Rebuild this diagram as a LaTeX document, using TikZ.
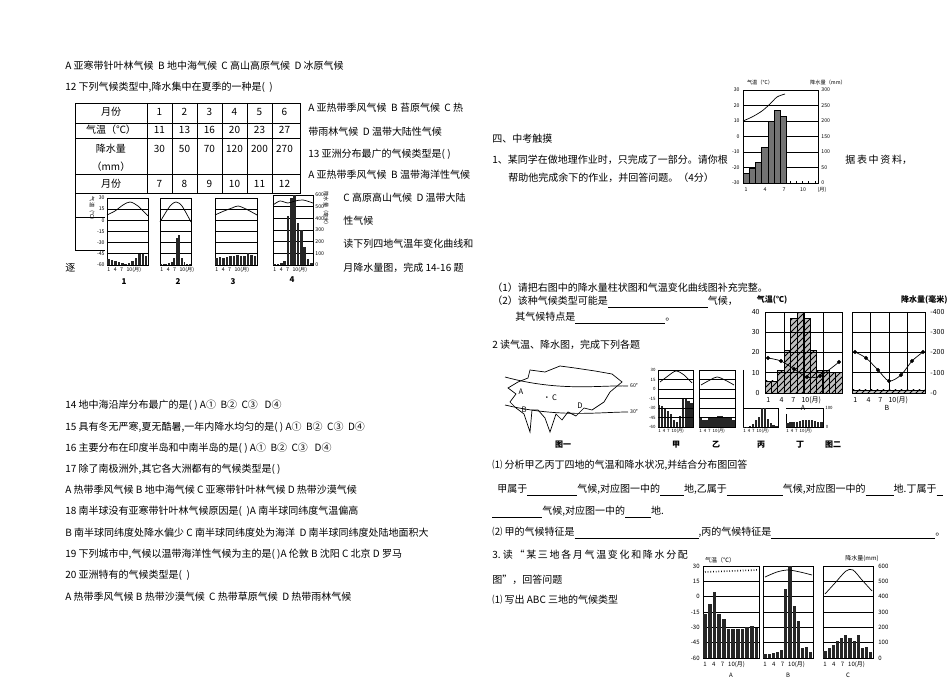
\documentclass[tikz,border=0pt]{standalone}
\usepackage{fontspec}
\setmainfont{Noto Sans CJK SC}
\usetikzlibrary{patterns}
\tikzset{
 txt/.style={anchor=west,inner sep=0,font=\fontsize{5.0}{6}\selectfont},
 sm/.style={inner sep=0,font=\fontsize{2.6}{3}\selectfont},
 lab/.style={inner sep=0,font=\fontsize{4}{4}\selectfont\bfseries},
 ln/.style={line width=0.35pt},
 bar/.style={fill=black!85},
 hatch/.style={ln,fill=black!25,postaction={pattern=north east lines}},
}
% x0 y0 w h bars(fractions) ngridlines
\newcommand\clim[6]{%
 \draw[ln] (#1,#2) rectangle ++(#3,#4);
 \foreach \k in {1,...,#6} \draw[ln] (#1,{#2+\k*#4/(#6+1)}) -- ++(#3,0);
 \foreach \v [count=\i] in {#5} \fill[bar] ({#1+(\i-0.9)*#3/12},{#2+#4}) rectangle ++({0.75*#3/12},{-\v*#4});
}
\begin{document}
\begin{tikzpicture}[x=0.5pt,y=-0.5pt]
\useasboundingbox (0,0) rectangle (950,679);
\fill[white] (0,0) rectangle (950,679);
% ---------- left column text
\node[txt] (l1) at (65,66) {A 亚寒带针叶林气候\ \ B 地中海气候\ \ C 高山高原气候\ \ D 冰原气候};
\node[txt] (l2) at (65,87) {12 下列气候类型中,降水集中在夏季的一种是(\ \ )};
% table
\draw[ln] (75,103) rectangle (300,193);
\foreach \yy in {123,138,174} \draw[ln] (75,\yy) -- (300,\yy);
\foreach \xx in {147,172,197,222,247,272} \draw[ln] (\xx,103) -- (\xx,193);
\draw[ln] (75,193) -- (75,250) (75,217) -- (105,217) (75,250) -- (105,250);
\node[txt,anchor=center] (h1) at (111,112) {月份};
\node[txt,anchor=center] (h2) at (111,130) {气温（℃）};
\node[txt,anchor=center] (h3) at (111,149) {降水量};
\node[txt,anchor=center] (h4) at (111,167) {（mm）};
\node[txt,anchor=center] (h5) at (111,184) {月份};
\foreach \a/\b/\c/\d [count=\i] in {1/11/30/7,2/13/50/8,3/16/70/9,4/20/120/10,5/23/200/11,6/27/270/12}{
 \node[txt,anchor=center] (m\i) at ({134.5+25*\i},112) {\a};
 \node[txt,anchor=center] (t\i) at ({134.5+25*\i},130) {\b};
 \node[txt,anchor=center] (p\i) at ({134.5+25*\i},149) {\c};
 \node[txt,anchor=center] (n\i) at ({134.5+25*\i},184) {\d};
}
% four small charts
\clim{107}{198}{41}{67}{.085,.075,.065,.05,.025,.015,.025,.065,.1,.165,.16,.14}{5}
\draw[ln] plot[smooth] coordinates {(107,215)(115,211)(123,205)(130,202)(138,206)(148,216)};
\clim{160}{198}{31}{67}{.01,.01,.02,.03,.05,.1,.4,.45,.1,.04,.02,.01}{5}
\draw[ln] plot[smooth] coordinates {(160,222)(166,212)(171,205)(176,202)(182,206)(191,222)};
\clim{215}{198}{42}{67}{.11,.12,.1,.12,.13,.14,.15,.14,.14,.18,.15,.13}{5}
\draw[ln] plot[smooth] coordinates {(215,215)(224,211)(232,208)(238,206)(246,209)(257,215)};
\clim{273}{195}{40}{70}{.02,.02,.03,.05,.7,.95,1.0,.6,.5,.25,.08,.03}{5}
\draw[ln] plot[smooth] coordinates {(273,205)(280,201)(288,203)(295,201)(303,200)(313,203)};
\foreach \t [count=\i] in {30,15,0,-15,-30,-45,-60} \node[sm,anchor=east] (ya\i) at (105,{198+(\i-1)*67/6}) {\t};
\node[sm,rotate=-90] (yl) at (92,210) {气温（℃）};
\foreach \t [count=\i] in {600,500,400,300,200,100,0} \node[sm,anchor=west] (yb\i) at (315,{195+(\i-1)*70/6}) {\t};
\node[sm,rotate=-90] (yr) at (326,210) {降水量（毫米）};
\foreach \xx/\yy in {107/1,160/2,215/3,273/4}{
 \node[sm,anchor=west] (mm\yy) at (\xx,270) {1\ \ \ 4\ \ \ 7\ \ \ 10(月)};
}
\node[lab] (c1) at (124,282) {1};
\node[lab] (c2) at (178,282) {2};
\node[lab] (c3) at (233,282) {3};
\node[lab] (c4) at (292,280) {4};
\node[txt] (zhu) at (65,268) {逐};
\node[txt] (r1) at (308,108) {A 亚热带季风气候\ \ B 苔原气候\ \ C 热};
\node[txt] (r2) at (308,132) {带雨林气候\ \ D 温带大陆性气候};
\node[txt] (r3) at (308,154) {13 亚洲分布最广的气候类型是(\ )};
\node[txt] (r4) at (308,175) {A 亚热带季风气候\ \ B 温带海洋性气候};
\node[txt] (r5) at (343,198) {C 高原高山气候\ \ D 温带大陆};
\node[txt] (r6) at (343,221) {性气候};
\node[txt] (r7) at (343,244) {读下列四地气温年变化曲线和};
\node[txt] (r8) at (343,268) {月降水量图，完成 14-16 题};
\node[txt] (q14) at (65,405) {14 地中海沿岸分布最广的是(\ )\ A①\ \ B②\ \ C③\ \ \ D④};
\node[txt] (q15) at (65,427) {15 具有冬无严寒,夏无酷暑,一年内降水均匀的是(\ )\ A①\ \ B②\ \ C③\ \ D④};
\node[txt] (q16) at (65,448) {16 主要分布在印度半岛和中南半岛的是(\ )\ A①\ \ B②\ \ C③\ \ \ D④};
\node[txt] (q17) at (65,469) {17 除了南极洲外,其它各大洲都有的气候类型是(\ )};
\node[txt] (q17a) at (65,490) {A 热带季风气候\ B 地中海气候\ C 亚寒带针叶林气候\ D 热带沙漠气候};
\node[txt] (q18) at (65,511) {18 南半球没有亚寒带针叶林气候原因是(\ \ )A 南半球同纬度气温偏高};
\node[txt] (q18a) at (65,533) {B 南半球同纬度处降水偏少\ C 南半球同纬度处为海洋\ \ D 南半球同纬度处陆地面积大};
\node[txt] (q19) at (65,554) {19 下列城市中,气候以温带海洋性气候为主的是(\ )A 伦敦\ B 沈阳\ C 北京\ D 罗马};
\node[txt] (q20) at (65,575) {20 亚洲特有的气候类型是(\ \ )};
\node[txt] (q20a) at (65,597) {A 热带季风气候\ B 热带沙漠气候\ \ C 热带草原气候\ \ D 热带雨林气候};
% ---------- right column
\node[txt] (s4) at (492,139) {四、中考触摸};
\node[txt] (s41) at (492,160) {1、某同学在做地理作业时，只完成了一部分。请你根};
\node[txt] (s41b) at (845,160) {据\,表\,中\,资\,料，};
\node[txt] (s42) at (508,178) {帮助他完成余下的作业，并回答问题。（4分）};
% top-right chart
\draw[ln] (743,90) rectangle (818,183);
\foreach \k in {1,...,5} \draw[ln] (743,{90+\k*15.5}) -- (818,{90+\k*15.5});
\foreach \tp [count=\i] in {173,168,162,147,121,110,116}
 \filldraw[ln,fill=black!55] ({743+(\i-1)*6.25},183) rectangle ++(6.25,{\tp-183});
\foreach \i in {8,...,12} \draw[ln] ({743+(\i-0.5)*6.25},183) -- ++(0,-2);
\draw[ln] plot[smooth] coordinates {(743,121)(752,117)(762,111)(770,104)(777,97)(785,94)};
\foreach \t [count=\i] in {30,20,10,0,-10,-20,-30} \node[sm,anchor=east] (tl\i) at (740,{90+(\i-1)*15.5}) {\t};
\foreach \t [count=\i] in {300,250,200,150,100,50,0} \node[sm,anchor=west] (tr\i) at (821,{90+(\i-1)*15.5}) {\t};
\node[sm] (tlab) at (760,83) {气温（℃）};
\node[sm] (trab) at (828,83) {降水量（mm）};
\foreach \t/\xx in {1/746,4/765,7/784,10/803,(月)/822} \node[sm] (tm\xx) at (\xx,190) {\t};
\node[txt] (a1) at (492,288) {（1）请把右图中的降水量柱状图和气温变化曲线图补充完整。};
\node[txt] (a2) at (492,302) {（2）该种气候类型可能是\underline{\hspace{50pt}}气候，};
\node[txt] (a3) at (515,318) {其气候特点是\underline{\hspace{45pt}}。};
\node[txt] (a4) at (492,345) {2 读气温、降水图，完成下列各题};
% big charts A and B
\foreach \v [count=\i] in {6,6,11,21,37,40,37,21,11,11,10,10}
 \draw[hatch] ({765+(\i-1)*6.42},393) rectangle ++(6.42,{-2.02*\v});
\draw[ln] (765,312) rectangle (842,393);
\foreach \k in {1,2,3} \draw[ln] (765,{312+\k*20.25}) -- (842,{312+\k*20.25});
\foreach \xx in {784,804,823} \draw[ln] (\xx,312) -- (\xx,393);
\draw[ln] plot[smooth,mark=*,mark size=0.8] coordinates {(768,358)(781,361)(794,369)(807,377)(820,376)(839,362)};
\draw[ln] (852,312) rectangle (925,393);
\foreach \k in {1,2,3} \draw[ln] (852,{312+\k*20.25}) -- (925,{312+\k*20.25});
\foreach \xx in {870,889,907} \draw[ln] (\xx,312) -- (\xx,393);
\draw[ln] plot[smooth,mark=*,mark size=0.8] coordinates {(855,352)(866,358)(878,370)(889,381)(901,375)(912,361)(923,352)};
\draw[hatch] (852,393) rectangle (925,390);
\foreach \t [count=\i] in {40,30,20,10,0} \node[sm,anchor=east] (bl\i) at (760,{312+(\i-1)*20.25}) {\fontsize{3.5}{4}\selectfont\t};
\foreach \t [count=\i] in {400,300,200,100,0} \node[sm,anchor=west] (br\i) at (930,{312+(\i-1)*20.25}) {\fontsize{3.5}{4}\selectfont -\t};
\node[sm] (bt1) at (772,300) {\fontsize{4}{4}\selectfont\bfseries 气温(℃)};
\node[sm,anchor=east] (bt2) at (948,300) {\fontsize{4}{4}\selectfont\bfseries 降水量(毫米)};
\node[sm,anchor=west] (bm1) at (766,400) {\fontsize{3.5}{4}\selectfont 1\ \ \ \ \ \ 4\ \ \ \ \ 7\ \ \ \ 10(月)};
\node[sm,anchor=west] (bm2) at (853,400) {\fontsize{3.5}{4}\selectfont 1\ \ \ \ \ \ 4\ \ \ \ \ 7\ \ \ \ 10(月)};
\node[sm] (bA) at (803,408) {\fontsize{3.5}{4}\selectfont A};
\node[sm] (bB) at (887,408) {\fontsize{3.5}{4}\selectfont B};
% map
\draw[ln] (530,370) -- (545,372) -- (560,366) -- (575,368) -- (595,371) -- (612,374) -- (622,382) -- (610,392) -- (604,402) -- (592,410) -- (584,408) -- (576,416) -- (568,412) -- (562,420) -- (556,414) -- (550,432) -- (545,418) -- (538,410) -- (532,410) -- (530,432) -- (524,414) -- (516,408) -- (510,402) -- (516,394) -- (508,388) -- (518,382) -- (528,378) -- cycle;
\draw[ln] (505,377) .. controls (560,392) and (600,385) .. (628,386);
\draw[ln] (505,405) .. controls (560,418) and (600,412) .. (628,412);
\node[sm] (g60) at (634,386) {60°};
\node[sm] (g30) at (634,412) {30°};
\node[lab,font=\fontsize{3.8}{4}\selectfont] (mA) at (521,392) {A};
\node[lab,font=\fontsize{3.8}{4}\selectfont] (mB) at (524,410) {B};
\node[lab,font=\fontsize{3.8}{4}\selectfont] (mC) at (550,398) {•\,C};
\node[lab,font=\fontsize{3.8}{4}\selectfont] (mD) at (580,406) {D};
\node[lab] (tu1) at (563,445) {图一};
% small charts 甲乙丙丁
\clim{658}{370}{35}{57}{.38,.36,.32,.28,.22,.12,.08,.2,.5,.5,.45,.42}{0}
\foreach \k in {1,...,5} \draw[ln] (658,{370+\k*9.5}) -- (693,{370+\k*9.5});
\draw[ln] plot[smooth] coordinates {(660,382)(668,376)(676,371)(684,375)(692,383)};
\clim{699}{370}{36}{57}{.15,.13,.13,.15,.17,.17,.19,.19,.17,.17,.15,.13}{0}
\foreach \k in {1,...,5} \draw[ln] (699,{370+\k*9.5}) -- (735,{370+\k*9.5});
\draw[ln] plot[smooth] coordinates {(701,385)(710,380)(717,377)(725,380)(734,385)};
\draw[ln] (743,370) -- (743,427) -- (778,427) -- (778,408) (743,408) -- (778,408);
\foreach \v [count=\i] in {.02,.02,.05,.15,.35,.55,1,1,.4,.2,.1,.05}
 \fill[bar] ({743+(\i-0.9)*35/12},427) rectangle ++({0.75*35/12},{-\v*19});
\draw[ln] (786,414) -- (786,427) -- (823,427) -- (823,408) (786,408) -- (823,408);
\foreach \v [count=\i] in {.3,.35,.35,.4,.45,.5,.55,.55,.5,.45,.4,.35}
 \fill[bar] ({786+(\i-0.9)*37/12},427) rectangle ++({0.75*37/12},{-\v*13});
\foreach \t [count=\i] in {30,15,0,-15,-30,-45,-60} \node[sm,anchor=east] (ja\i) at (656,{370+(\i-1)*9.5}) {\fontsize{2.2}{3}\selectfont\t};
\node[sm] (ra1) at (829,408) {\fontsize{2.2}{3}\selectfont 100};
\node[sm] (ra2) at (827,427) {\fontsize{2.2}{3}\selectfont 0};
\foreach \xx/\nm in {658/a,699/b,743/c,786/d} \node[sm,anchor=west] (sm\nm) at (\xx,431) {\fontsize{2.2}{3}\selectfont 1\ \ 4\ \ 7\ \ 10(月)};
\node[lab] (jia) at (676,445) {甲};
\node[lab] (yi) at (716,445) {乙};
\node[lab] (bing) at (761,445) {丙};
\node[lab] (ding) at (800,445) {丁};
\node[lab] (tu2) at (833,445) {图二};
\node[txt] (b1) at (492,465) {⑴ 分析甲乙丙丁四地的气温和降水状况,并结合分布图回答};
\node[txt] (b2) at (497,490) {甲属于\underline{\hspace{25pt}}气候,对应图一中的\underline{\hspace{12pt}}地,乙属于\underline{\hspace{28pt}}气候,对应图一中的\underline{\hspace{14pt}}地.丁属于\underline{\hspace{3pt}}};
\node[txt] (b3) at (492,512) {\underline{\hspace{25pt}}气候,对应图一中的\underline{\hspace{13pt}}地.};
\node[txt] (b4) at (492,533) {⑵ 甲的气候特征是\underline{\hspace{62pt}},丙的气候特征是\underline{\hspace{82pt}}。};
\node[txt] (c31) at (492,555) {3.\ 读\,“\,某\,三\,地\,各\,月\,气\,温\,变\,化\,和\,降\,水\,分\,配};
\node[txt] (c32) at (492,580) {图”，回答问题};
\node[txt] (c33) at (492,600) {⑴ 写出 ABC 三地的气候类型};
% bottom three charts
\clim{703}{566}{56}{92}{.48,.59,.72,.48,.42,.31,.31,.32,.32,.34,.35,.33}{5}
\clim{763}{566}{50}{92}{.04,.045,.05,.07,.09,.75,1.0,.57,.4,.11,.12,.06}{5}
\clim{823}{566}{50}{92}{.08,.11,.145,.18,.22,.25,.22,.18,.25,.11,.12,.06}{5}
\draw[ln,densely dotted,thick] (705,572) -- (757,570);
\draw[ln] plot[smooth] coordinates {(765,577)(777,572)(788,570)(800,572)(812,575)};
\draw[ln] plot[smooth] coordinates {(825,594)(835,583)(846,571)(853,570)(862,580)(872,591)};
\foreach \t [count=\i] in {30,15,0,-15,-30,-45,-60} \node[sm,anchor=east] (ca\i) at (700,{566+(\i-1)*92/6}) {\fontsize{3}{3}\selectfont\t};
\foreach \t [count=\i] in {600,500,400,300,200,100,0} \node[sm,anchor=west] (cb\i) at (878,{566+(\i-1)*92/6}) {\fontsize{3}{3}\selectfont\t};
\node[sm] (cl) at (720,560) {\fontsize{3}{3}\selectfont 气温（℃）};
\node[sm] (cr) at (862,559) {\fontsize{3}{3}\selectfont 降水量(mm)};
\foreach \xx/\nm in {703/a,763/b,823/c} \node[sm,anchor=west] (cm\nm) at (\xx,665) {\fontsize{3}{3}\selectfont 1\ \ \ \ 4\ \ \ \ 7\ \ \ 10(月)};
\node[sm] (cA) at (731,675) {\fontsize{3}{3}\selectfont A};
\node[sm] (cB) at (788,675) {\fontsize{3}{3}\selectfont B};
\node[sm] (cC) at (848,675) {\fontsize{3}{3}\selectfont C};
\end{tikzpicture}
\end{document}
